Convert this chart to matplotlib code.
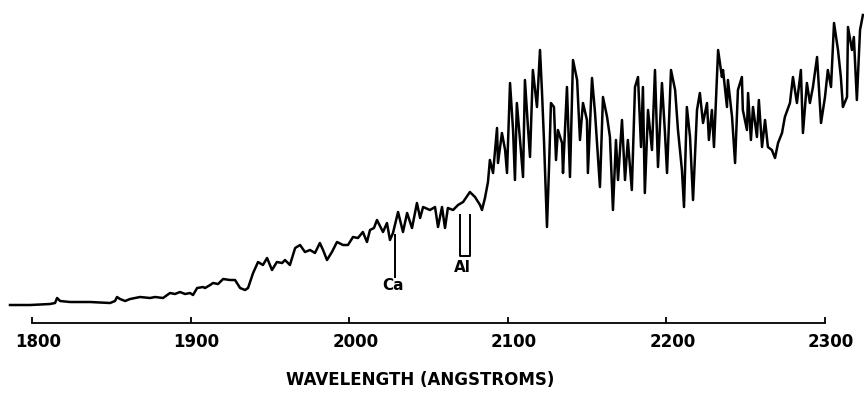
import matplotlib.pyplot as plt
from matplotlib.transforms import ScaledTranslation

# Espectro medido (longitud de onda en angstroms, flujo relativo)
longitud_onda = [
    1786.1, 1798.8, 1811.3, 1814.5, 1815.8, 1817.7, 1824.0, 1836.6, 1849.2, 1852.3,
    1853.6, 1855.5, 1858.7, 1861.8, 1868.1, 1874.4, 1877.6, 1882.6, 1887.0, 1890.1,
    1893.3, 1896.5, 1899.6, 1901.5, 1904.1, 1907.8, 1909.1, 1912.3, 1914.1, 1917.3,
    1920.5, 1924.8, 1928.0, 1931.2, 1934.3, 1936.2, 1939.4, 1942.5, 1945.6, 1948.2,
    1951.3, 1954.4, 1957.7, 1959.5, 1962.6, 1965.9, 1969.0, 1972.1, 1975.3, 1978.4,
    1981.5, 1983.5, 1986.0, 1989.1, 1992.3, 1996.1, 1999.2, 2002.4, 2005.5, 2008.6,
    2011.2, 2013.1, 2015.6, 2017.5, 2021.3, 2023.8, 2025.7, 2027.6, 2030.8, 2033.9,
    2036.5, 2039.6, 2042.7, 2044.7, 2046.6, 2050.9, 2054.1, 2056.0, 2058.5, 2060.4,
    2062.2, 2065.5, 2068.6, 2071.8, 2076.1, 2079.3, 2082.5, 2083.7, 2085.6, 2087.5,
    2088.7, 2090.7, 2093.2, 2093.8, 2096.3, 2098.3, 2099.5, 2101.4, 2103.3, 2104.5,
    2105.7, 2107.7, 2109.6, 2110.8, 2112.7, 2114.0, 2115.8, 2118.4, 2120.3, 2121.5,
    2122.8, 2124.7, 2126.0, 2127.2, 2129.1, 2130.4, 2131.6, 2134.2, 2134.8, 2137.3,
    2139.2, 2141.1, 2143.7, 2145.5, 2147.4, 2149.9, 2150.5, 2153.1, 2155.0, 2158.1,
    2160.0, 2162.6, 2164.4, 2166.3, 2168.2, 2169.5, 2172.0, 2173.9, 2175.7, 2178.2,
    2180.2, 2182.1, 2184.0, 2185.2, 2186.4, 2188.4, 2190.9, 2192.8, 2194.7, 2197.2,
    2199.1, 2200.4, 2202.9, 2205.5, 2207.3, 2209.8, 2211.1, 2212.9, 2214.9, 2216.8,
    2219.3, 2221.1, 2223.1, 2225.6, 2226.8, 2228.7, 2230.0, 2232.6, 2235.0, 2235.7,
    2238.2, 2238.8, 2241.4, 2243.3, 2245.1, 2247.6, 2248.2, 2250.8, 2251.5, 2253.3,
    2254.6, 2257.1, 2258.3, 2260.3, 2262.2, 2264.0, 2266.5, 2268.5, 2270.4, 2272.9,
    2274.7, 2277.9, 2279.8, 2282.3, 2284.8, 2286.1, 2288.6, 2290.5, 2292.4, 2295.0,
    2297.5, 2300.0, 2301.8, 2303.8, 2305.7, 2308.2, 2310.0, 2311.3, 2313.9, 2314.5,
    2317.0, 2318.2, 2320.1, 2322.1, 2323.9,
]
flujo = [
    1.8, 1.8, 1.9, 2.0, 2.5, 2.2, 2.1, 2.1, 2.0, 2.2,
    2.6, 2.4, 2.2, 2.4, 2.6, 2.5, 2.6, 2.5, 3.0, 2.9,
    3.1, 2.9, 3.0, 2.8, 3.5, 3.6, 3.5, 3.8, 4.0, 3.9,
    4.4, 4.3, 4.3, 3.5, 3.3, 3.5, 5.0, 6.1, 5.8, 6.5,
    5.3, 6.1, 6.0, 6.3, 5.8, 7.5, 7.8, 7.1, 7.3, 7.0,
    8.0, 7.3, 6.3, 7.1, 8.1, 7.8, 7.8, 8.6, 8.5, 9.1,
    8.1, 9.3, 9.5, 10.3, 9.1, 10.0, 8.3, 9.0, 11.1, 9.1,
    11.0, 9.5, 12.0, 10.5, 11.6, 11.3, 11.6, 9.6, 11.6, 9.5,
    11.5, 11.3, 11.8, 12.1, 13.1, 12.6, 11.8, 11.3, 12.5, 14.1,
    16.3, 15.0, 19.5, 16.0, 19.0, 17.3, 15.0, 24.0, 19.3, 14.3,
    22.0, 18.3, 14.6, 24.3, 19.6, 16.6, 25.3, 21.6, 27.3, 23.3,
    18.3, 9.6, 15.6, 22.0, 21.6, 16.3, 19.3, 18.0, 15.0, 23.6,
    14.6, 26.3, 24.3, 18.3, 22.0, 20.3, 15.0, 24.5, 21.0, 13.6,
    22.6, 20.6, 18.6, 11.3, 18.3, 14.3, 20.3, 14.3, 18.3, 13.3,
    23.6, 24.6, 17.6, 23.6, 13.0, 21.3, 17.3, 25.3, 15.6, 24.0,
    19.0, 15.0, 25.3, 23.3, 19.3, 15.3, 11.6, 21.6, 18.6, 12.3,
    21.3, 23.0, 20.0, 22.0, 18.3, 21.3, 17.6, 27.3, 24.6, 25.3,
    21.6, 24.3, 20.6, 16.0, 23.3, 24.6, 21.3, 19.3, 23.0, 18.3,
    21.6, 18.6, 22.3, 17.6, 20.3, 17.6, 17.3, 16.5, 18.0, 19.0,
    20.6, 22.0, 24.6, 22.0, 25.3, 19.0, 24.0, 22.0, 23.6, 26.6,
    20.0, 22.6, 25.3, 23.6, 30.0, 27.3, 24.6, 21.6, 22.6, 29.6,
    27.3, 28.6, 22.3, 29.3, 30.8,
]

marcas_eje = [1800, 1900, 2000, 2100, 2200, 2300]

# Lineas identificadas: Ca (marca simple) y Al (doblete)
linea_ca = 2028.9
doblete_al = [2069.9, 2076.2]

fig = plt.figure(figsize=(8.64, 3.93), dpi=100)
ax = fig.add_axes([0, 0.1781, 1, 0.8219])

ax.plot(longitud_onda, flujo, color='black', linewidth=1.8, solid_joinstyle='round')

# Marcas de identificacion bajo el espectro
ax.plot([linea_ca, linea_ca], [8.8, 4.6], color='black', linewidth=1.4)
ax.text(linea_ca - 1.0, 3.75, 'Ca', ha='center', va='center',
        fontsize=11, fontweight='bold')
ax.plot([doblete_al[0], doblete_al[0], doblete_al[1], doblete_al[1]],
        [10.8, 6.7, 6.7, 10.8], color='black', linewidth=1.4)
ax.text(sum(doblete_al) / 2 - 1.5, 5.6, 'Al', ha='center', va='center',
        fontsize=11, fontweight='bold')

ax.set_xlim(1779.8, 2324.6)
ax.set_ylim(0, 32.3)

for lado in ['top', 'left', 'right']:
    ax.spines[lado].set_visible(False)
ax.spines['bottom'].set_bounds(1800, 2300)
ax.spines['bottom'].set_linewidth(1.3)
ax.set_yticks([])
ax.set_xticks(marcas_eje)
ax.set_xticklabels([str(m) for m in marcas_eje], fontsize=12, fontweight='bold')
ax.tick_params(axis='x', direction='in', length=4.5, width=1.3, pad=7)

desplazamiento = ScaledTranslation(0.06, 0, fig.dpi_scale_trans)
for etiqueta in ax.get_xticklabels():
    etiqueta.set_transform(etiqueta.get_transform() + desplazamiento)

fig.text(0.486, 0.033, 'WAVELENGTH (ANGSTROMS)', ha='center', va='center',
         fontsize=12, fontweight='bold')

plt.savefig('out.png', dpi=100)
